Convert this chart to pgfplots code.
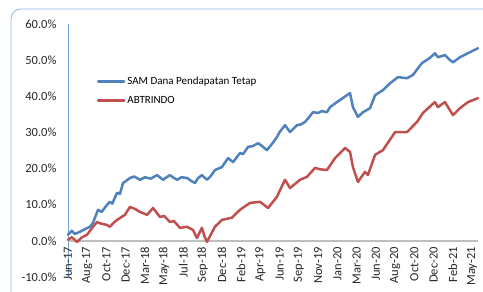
\documentclass[border=0pt]{standalone}
\usepackage{fontspec}
\setmainfont{Carlito}
\usepackage{pgfplots}
\pgfplotsset{compat=1.18}
\definecolor{sblue}{HTML}{4F81BD}
\definecolor{sred}{HTML}{C0504D}
\definecolor{axblue}{HTML}{6F9FD8}
\definecolor{zgray}{HTML}{BFBFBF}
\definecolor{frame}{HTML}{8EB4E3}
\begin{document}
\begin{tikzpicture}[x=1pt,y=1pt]
\useasboundingbox (0,0) rectangle (483,292);
\draw[frame, line width=0.8pt, rounded corners=10pt] (11,-10) rectangle (500,283);
\begin{axis}[
  at={(68pt,15pt)}, anchor=south west,
  scale only axis, width=410pt, height=253pt,
  xmin=0, xmax=21.31, ymin=-10, ymax=60,
  axis y line*=left, axis x line*=bottom,
  y axis line style={axblue, line width=0.7pt},
  x axis line style={draw=none},
  ytick={-10,0,10,20,30,40,50,60},
  yticklabel={\pgfmathprintnumber[fixed,fixed zerofill,precision=1]{\tick}\%},
  /pgf/number format/assume math mode=true,
  extra y ticks={0}, extra y tick labels={},
  extra y tick style={ymajorgrids=true, major grid style={zgray, line width=1.5pt}},
  ytick style={draw=none}, xtick style={draw=none},
  yticklabel style={font=\fontsize{12.5}{14}\selectfont, color=black!85, anchor=east, xshift=-8pt},
  xtick={0,...,21},
  xticklabels={Jun-17,Aug-17,Oct-17,Dec-17,Mar-18,May-18,Jul-18,Sep-18,Dec-18,Feb-19,Apr-19,Jun-19,Sep-19,Nov-19,Jan-20,Mar-20,Jun-20,Aug-20,Oct-20,Dec-20,Feb-21,May-21},
  xticklabel style={font=\fontsize{12.5}{14}\selectfont, color=black!85, yshift=31pt, rotate=90, anchor=east, inner sep=1pt},
  clip=false,
  legend style={at={(0.07,0.80)}, anchor=north west, draw=none, fill=none,
    font=\fontsize{11}{13}\selectfont, row sep=6pt, inner sep=0pt},
  legend cell align=left,
  legend image code/.code={\draw[#1, line width=2.5pt] (0pt,0pt) -- (26pt,0pt);},
]
\addplot[sblue, line width=2.5pt, line join=round, line cap=round] coordinates {
(0,1.7) (0.2,2.8) (0.35,1.9) (0.62,2.5) (0.9,3.3) (1.14,3.9) (1.3,5.0) (1.40,6.4) (1.56,8.6) (1.75,8.0)
(2.03,10.0) (2.18,10.8) (2.3,10.3) (2.55,13.3) (2.7,13.0) (2.86,16.0) (3.0,16.5) (3.22,17.4) (3.45,17.8) (3.74,16.9)
(4.0,17.6) (4.3,17.2) (4.63,18.2) (4.94,16.9) (5.1,17.5) (5.30,18.2) (5.5,17.4) (5.67,16.9) (5.9,17.6) (6.19,17.4)
(6.4,16.6) (6.60,16.0) (6.75,17.3) (6.96,18.2) (7.22,16.9) (7.4,17.8) (7.64,19.6) (8.00,20.4) (8.32,22.9) (8.58,21.8)
(8.94,24.3) (9.1,24.0) (9.36,26.0) (9.6,26.2) (9.88,27.0) (10.05,26.4) (10.34,25.1) (10.6,26.8) (10.86,28.7) (11.0,30.1)
(11.28,32.0) (11.54,30.1) (11.90,32.0) (12.1,32.2) (12.32,32.9) (12.5,34.0) (12.73,35.6) (13.0,35.4) (13.2,35.9) (13.46,35.6)
(13.62,37.0) (13.98,38.4) (14.2,39.2) (14.50,40.3) (14.66,40.9) (14.81,37.0) (15.07,34.3) (15.33,35.6) (15.70,36.7) (15.96,40.3)
(16.37,41.7) (16.74,43.6) (17.15,45.3) (17.62,45.0) (17.93,45.9) (18.15,47.5) (18.40,49.2) (18.81,50.6) (19.07,51.9) (19.23,50.8)
(19.59,51.4) (19.8,50.3) (20.01,49.4) (20.37,50.8) (20.89,52.2) (21.31,53.3)
};
\addlegendentry{SAM Dana Pendapatan Tetap}
\addplot[sred, line width=2.5pt, line join=round, line cap=round] coordinates {
(0,0.3) (0.2,1.0) (0.47,-0.3) (0.7,0.9) (0.99,1.7) (1.30,3.9) (1.51,5.2) (1.7,4.8) (2.03,4.4) (2.18,3.9)
(2.35,4.9) (2.55,5.8) (2.96,7.2) (3.22,9.4) (3.5,8.8) (3.74,8.0) (4.11,7.2) (4.42,9.1) (4.78,6.6) (5.0,6.9)
(5.30,5.2) (5.5,5.5) (5.82,3.6) (6.19,3.9) (6.50,3.0) (6.70,0.8) (6.96,3.6) (7.1,1.2) (7.22,-0.3) (7.4,1.5)
(7.64,3.9) (8.00,5.8) (8.52,6.4) (8.94,8.6) (9.46,10.5) (9.98,10.8) (10.40,9.1) (10.86,12.2) (11.28,16.9) (11.54,14.6)
(12.06,16.9) (12.42,17.7) (12.84,20.2) (13.1,19.8) (13.46,19.6) (13.88,22.9) (14.40,25.7) (14.66,24.6) (14.81,20.4) (15.07,16.3)
(15.44,19.1) (15.59,18.2) (15.96,23.8) (16.37,25.1) (17.00,30.1) (17.62,30.1) (18.14,32.9) (18.45,35.4) (19.07,38.4) (19.23,37.0)
(19.59,38.4) (20.01,34.8) (20.37,36.7) (20.79,38.4) (21.31,39.5)
};
\addlegendentry{ABTRINDO}
\end{axis}
\end{tikzpicture}
\end{document}
